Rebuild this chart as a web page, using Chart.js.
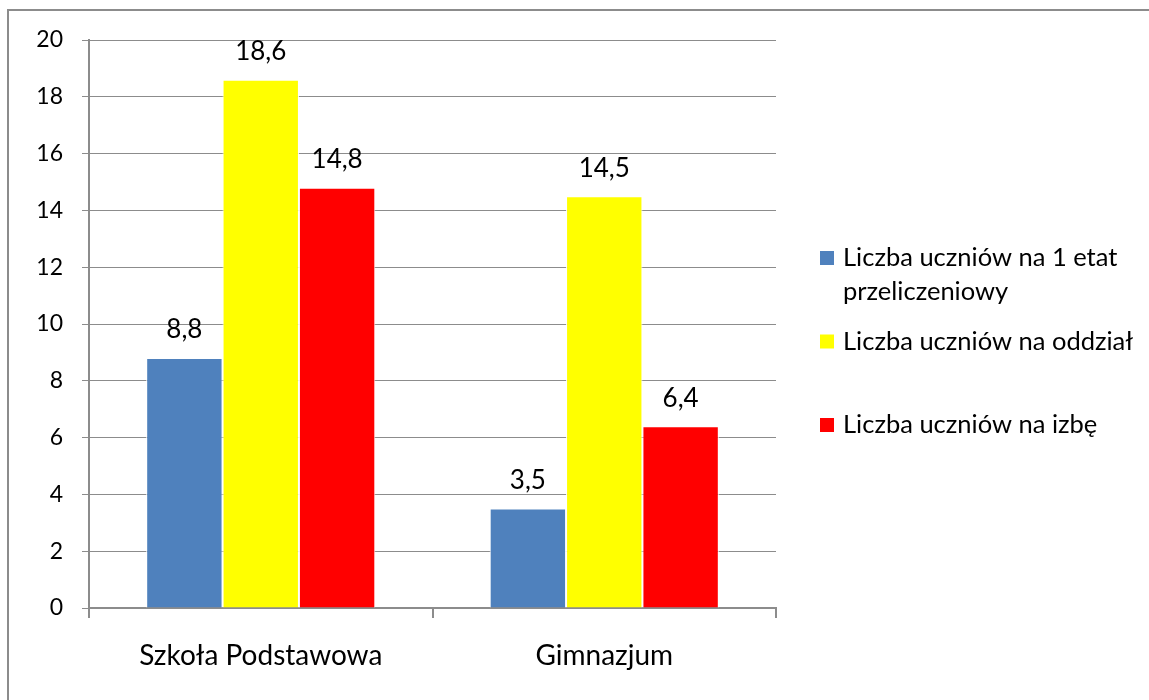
<!DOCTYPE html>
<html>
<head>
<meta charset="utf-8">
<script src="https://cdn.jsdelivr.net/npm/chart.js@4"></script>
<style>
  html, body { margin: 0; padding: 0; background: #fff; overflow: hidden; }
  #wrap { position: relative; width: 1149px; height: 700px; }
  #frame { position: absolute; left: 7px; top: 9px; width: 1300px; height: 900px; border: 2px solid #8c8c8c; box-sizing: border-box; pointer-events: none; }
  canvas { position: absolute; left: 0; top: 0; }
</style>
</head>
<body>
<div id="wrap">
  <canvas id="chart" width="1149" height="700"></canvas>
  <div id="frame"></div>
</div>
<script>
const categories = ['Szkoła Podstawowa', 'Gimnazjum'];
const seriesNames = [
  'Liczba uczniów na 1 etat przeliczeniowy',
  'Liczba uczniów na oddział',
  'Liczba uczniów na izbę'
];
const perTeacher = [8.8, 3.5];
const perClass = [18.6, 14.5];
const perRoom = [14.8, 6.4];
const yTicks = [0, 2, 4, 6, 8, 10, 12, 14, 16, 18, 20];
const colors = ['#4f81bd', '#ffff00', '#ff0000'];

const FONT = 'Lato, "Liberation Sans", sans-serif';

// value labels above bars, Polish decimal comma
const valueLabels = {
  id: 'valueLabels',
  afterDatasetsDraw(chart) {
    const ctx = chart.ctx;
    ctx.save();
    ctx.font = '26px ' + FONT;
    ctx.fillStyle = '#000';
    ctx.textAlign = 'center';
    ctx.textBaseline = 'middle';
    chart.data.datasets.forEach((ds, i) => {
      chart.getDatasetMeta(i).data.forEach((bar, j) => {
        ctx.fillText(ds.data[j].toFixed(1).replace('.', ','), bar.x, bar.y - 28);
      });
    });
    ctx.restore();
  }
};

// legend on the right, wrapped like the office one
const sideLegend = {
  id: 'sideLegend',
  afterDraw(chart) {
    const ctx = chart.ctx;
    ctx.save();
    ctx.font = '25.5px ' + FONT;
    ctx.fillStyle = '#000';
    ctx.textBaseline = 'middle';
    const x0 = 820, maxW = 300;
    let y = 258;
    chart.data.datasets.forEach((ds, i) => {
      const words = ds.label.split(' ');
      const lines = [];
      let cur = '';
      words.forEach(w => {
        const t = cur ? cur + ' ' + w : w;
        if (ctx.measureText(t).width > maxW && cur) { lines.push(cur); cur = w; }
        else cur = t;
      });
      lines.push(cur);
      ctx.fillStyle = ds.backgroundColor;
      ctx.fillRect(x0, y - 7, 14, 14);
      ctx.fillStyle = '#000';
      lines.forEach((l, k) => ctx.fillText(l, x0 + 23, y + k * 34));
      y += 83.5;
    });
    ctx.restore();
  }
};

new Chart(document.getElementById('chart'), {
  type: 'bar',
  data: {
    labels: categories,
    datasets: [
      { label: seriesNames[0], data: perTeacher, backgroundColor: colors[0] },
      { label: seriesNames[1], data: perClass, backgroundColor: colors[1] },
      { label: seriesNames[2], data: perRoom, backgroundColor: colors[2] }
    ].map(d => Object.assign(d, { borderColor: '#fff', borderWidth: 1, categoryPercentage: 0.667, barPercentage: 1 }))
  },
  options: {
    responsive: false,
    animation: false,
    layout: { padding: { left: 0, top: 40, right: 373, bottom: 0 } },
    plugins: { legend: { display: false }, tooltip: { enabled: false } },
    scales: {
      x: {
        grid: { display: true, drawOnChartArea: false, offset: true, tickLength: 10, color: '#8c8c8c', lineWidth: 2 },
        border: { color: '#8c8c8c', width: 2 },
        ticks: { color: '#000', font: { family: FONT, size: 28 }, padding: 21 },
        afterFit(axis) { axis.height = 92; }
      },
      y: {
        min: 0, max: 20,
        afterBuildTicks(axis) { axis.ticks = yTicks.map(v => ({ value: v })); },
        grid: { color: '#8c8c8c', lineWidth: 1, tickLength: 7 },
        border: { color: '#8c8c8c', width: 2 },
        ticks: { color: '#000', font: { family: FONT, size: 23 }, padding: 19 },
        afterFit(axis) { axis.width = 89; }
      }
    }
  },
  plugins: [valueLabels, sideLegend]
});
</script>
</body>
</html>
